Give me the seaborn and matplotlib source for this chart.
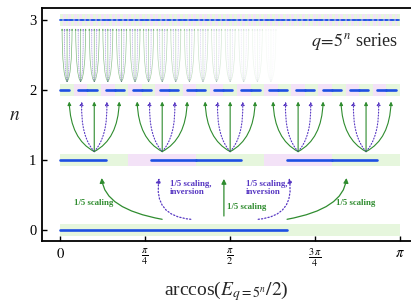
import numpy as np
import pandas as pd
import seaborn as sns
import matplotlib.pyplot as plt
from matplotlib.path import Path
from matplotlib.patches import FancyArrowPatch

# q = 5^n construction: every piece is cut into 5, odd pieces are also flipped
levels = [0, 1, 2, 3]
flip = [0, 1, 0, 1, 0]
cover = 2 / 3          # part of a piece that carries spectrum (level 0: 0 .. 2pi/3)

xtick_pos = [0, np.pi / 4, np.pi / 2, 3 * np.pi / 4, np.pi]
xtick_lab = ['$0$', r'$\frac{\pi}{4}$', r'$\frac{\pi}{2}$', r'$\frac{3\,\pi}{4}$', r'$\pi$']

# big arrows level 0 -> level 1
big_x0 = [0.942, 1.207, 1.513, 1.830, 2.097]
big_x1 = [0.383, 0.915, 1.513, 2.116, 2.646]
big_inv = [0, 1, 0, 1, 0]
big_text = ['1/5 scaling', '1/5 scaling,\ninversion', '1/5 scaling',
            '1/5 scaling,\ninversion', '1/5 scaling']
text_x = [0.127, 1.013, 1.537, 1.716, 2.554]
text_n = [0.38, 0.60, 0.33, 0.60, 0.38]

blue = '#1d4fe3'
green = '#2f8c2f'
purple = '#5636c2'
band_g = '#e6f6dd'
band_p = '#f3e2f7'

sns.set_theme(style='ticks')
plt.rcParams['font.family'] = ['Liberation Serif', 'DejaVu Serif']
plt.rcParams['mathtext.fontset'] = 'stix'

# build pieces of every level
rows = []
pieces = []
for n in levels:
    w = np.pi / 5 ** n
    state = [0]
    for _ in range(n):
        state = [s ^ f for s in state for f in flip]
    for j, s in enumerate(state):
        a = j * w
        lo, hi = (a + (1 - cover) * w, a + w) if s else (a, a + cover * w)
        key = f'{n}_{j}'
        rows.append({'x': lo, 'n': n, 'seg': key})
        rows.append({'x': hi, 'n': n, 'seg': key})
        pieces.append((n, j, a, w, s))
df = pd.DataFrame(rows)

fig = plt.figure(figsize=(4.11, 3.04), dpi=100)
ax = fig.add_axes([42 / 411, 63 / 304, 369 / 411, 233 / 304])

for n, j, a, w, s in pieces:
    ax.barh(n, w, left=a, height=0.16, color=band_p if s else band_g, lw=0, zorder=1)

sns.lineplot(data=df[df.n < 3], x='x', y='n', units='seg', estimator=None, sort=False,
             color=blue, lw=1.9, ax=ax, legend=False, zorder=3)
sns.lineplot(data=df[df.n == 3], x='x', y='n', units='seg', estimator=None, sort=False,
             color=blue, lw=1.3, ax=ax, legend=False, zorder=3)


def arrow(p0, ctrl, p2, color, ls, lw, ms, alpha=1.0):
    path = Path([p0, ctrl, p2], [Path.MOVETO, Path.CURVE3, Path.CURVE3])
    ax.add_patch(FancyArrowPatch(path=path, arrowstyle='-|>', mutation_scale=ms,
                                 color=color, lw=lw, ls=ls, alpha=alpha, zorder=4))


def fan(cx, n0, n1, w, lw, ms, alpha=1.0, bow=0.25):
    dy = n1 - n0
    for l in range(5):
        tx = cx + (l - 2) * w * 0.92
        dx = tx - cx
        if l == 2:
            ctrl = (cx, n0 + dy / 2)
        elif l in (0, 4):
            ctrl = (tx - 0.05 * dx, n0 + bow * dy)
        else:
            ctrl = (tx + 0.1 * dx, n0 + (bow + 0.05) * dy)
        col, ls = (purple, ':') if flip[l] else (green, '-')
        arrow((cx, n0), ctrl, (tx, n1), col, ls, lw, ms, alpha)


# level 1 -> 2 fans, fading level 2 -> 3 fans
for n, j, a, w, s in pieces:
    if n == 1:
        fan(a + w / 2, 1.12, 1.835, w / 5, 0.8, 5)
    if n == 2 and j < 16:
        fan(a + w / 2, 2.12, 2.88, w / 5, 0.5, 2, alpha=0.65 * (1 - j / 16), bow=0.08)

# level 0 -> 1 arrows with labels
for x0, x1, inv in zip(big_x0, big_x1, big_inv):
    dx = x1 - x0
    if abs(dx) < 1e-6:
        arrow((x0, 0.2), (x0, 0.45), (x1, 0.73), green, '-', 0.9, 7)
    elif inv:
        arrow((x0, 0.153), (x1 + 0.2 * dx, 0.2), (x1, 0.743), purple, ':', 0.9, 7)
    else:
        arrow((x0, 0.153), (x1 - 0.05 * dx, 0.3), (x1, 0.743), green, '-', 0.9, 7)

for t, x, y, inv in zip(big_text, text_x, text_n, big_inv):
    ax.text(x, y, t, color=purple if inv else green, fontsize=6.3, fontweight='bold',
            ha='left', va='center', linespacing=1.1)

ax.text(3.12, 2.69, r'$q\!=\!5^{\,n}$ series', fontsize=13, ha='right', va='center')

ax.set_xlim(-0.169, 3.243)
ax.set_ylim(-0.157, 3.171)
ax.set_xticks(xtick_pos)
ax.set_xticklabels(xtick_lab)
ax.set_yticks([0, 1, 2, 3])
ax.tick_params(direction='in', length=3.5, width=1, labelsize=10.5, colors='black', pad=4)
for side in ['left', 'bottom', 'top']:
    ax.spines[side].set_linewidth(1.3)
    ax.spines[side].set_color('black')
ax.spines['right'].set_visible(False)
ax.set_xlabel(r'arccos($E_{q=5^n}/2$)', fontsize=14)
ax.xaxis.set_label_coords(0.5, -0.165)
ax.set_ylabel('$n$', rotation=0, fontsize=14)
ax.yaxis.set_label_coords(-0.073, 0.5)

fig.savefig('out.png', dpi=100)
